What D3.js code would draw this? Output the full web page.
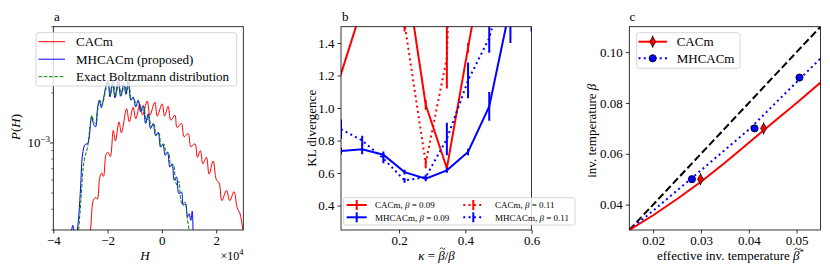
<!DOCTYPE html>
<html><head><meta charset="utf-8">
<script src="https://cdn.jsdelivr.net/npm/d3@7"></script>
<style>
body{margin:0;background:#fff}
svg{display:block}
svg text, svg tspan{font-family:"Liberation Serif","Times New Roman",serif !important;fill:#000}
</style>
</head><body>
<svg id="c" width="830" height="277" font-family="Liberation Serif"></svg>
<script>
// ---------- Panel a data (H in units of 1e4, P(H)) ----------
const aRedH = [-2.70,-2.63,-2.53,-2.45,-2.38,-2.29,-2.22,-2.15,-2.06,-1.99,-1.90,-1.79,-1.71,-1.58,-1.49,-1.30,-1.20,-1.06,-0.96,-0.81,-0.71,-0.54,-0.44,-0.26,-0.17,0.01,0.10,0.23,0.33,0.48,0.56,0.72,0.82,0.97,1.07,1.22,1.31,1.42,1.51,1.64,1.74,1.89,2.01,2.11,2.21,2.38,2.50,2.66,2.77,2.87,2.99,3.05];
const aRedP = [2.6e-4,3.0e-4,4.5e-4,4.7e-4,4.6e-4,6.2e-4,6.6e-4,6.3e-4,8.5e-4,8.8e-4,8.3e-4,1.19e-3,1.03e-3,1.34e-3,1.15e-3,1.61e-3,1.34e-3,1.64e-3,1.40e-3,1.71e-3,1.47e-3,1.79e-3,1.47e-3,1.76e-3,1.45e-3,1.72e-3,1.45e-3,1.66e-3,1.37e-3,1.47e-3,1.24e-3,1.31e-3,1.09e-3,1.14e-3,9.5e-4,9.9e-4,8.2e-4,9.0e-4,7.5e-4,8.2e-4,6.5e-4,7.8e-4,6.0e-4,5.75e-4,4.5e-4,5.2e-4,4.5e-4,5.1e-4,4.1e-4,3.8e-4,3.0e-4,2.7e-4];
const aBlueH = [-3.40,-3.28,-3.18,-3.12,-3.055,-2.994,-2.933,-2.871,-2.822,-2.736,-2.675,-2.589,-2.515,-2.442,-2.380,-2.307,-2.233,-2.160,-2.074,-1.988,-1.914,-1.816,-1.730,-1.607,-1.521,-1.399,-1.325,-1.239,-1.141,-1.055,-0.969,-0.871,-0.785,-0.687,-0.601,-0.503,-0.417,-0.319,-0.233,-0.135,-0.049,0.037,0.123,0.209,0.294,0.380,0.454,0.540,0.626,0.724,0.785,0.871,0.945,1.006,1.067,1.117,1.153];
const aBlueP = [2.4e-4,3.2e-4,2.4e-4,2.9e-4,3.76e-4,5.44e-4,8.24e-4,9.46e-4,9.82e-4,9.91e-4,1.087e-3,1.43e-3,1.295e-3,1.248e-3,1.57e-3,1.81e-3,1.63e-3,1.81e-3,2.15e-3,2.38e-3,1.89e-3,2.35e-3,1.87e-3,2.38e-3,1.91e-3,2.27e-3,1.96e-3,2.40e-3,1.81e-3,1.89e-3,1.65e-3,1.81e-3,1.54e-3,1.68e-3,1.31e-3,1.50e-3,1.22e-3,1.31e-3,1.11e-3,1.16e-3,9.46e-4,9.82e-4,8.43e-4,8.83e-4,7.17e-4,7.51e-4,5.97e-4,6.25e-4,4.96e-4,5.07e-4,4.22e-4,4.32e-4,3.59e-4,3.76e-4,3.43e-4,3.90e-4,2.7e-4];
const aGreenH = [-3.10,-3.067,-2.982,-2.896,-2.822,-2.748,-2.650,-2.577,-2.503,-2.429,-2.356,-2.282,-2.209,-2.135,-2.049,-1.963,-1.890,-1.791,-1.706,-1.583,-1.497,-1.374,-1.301,-1.215,-1.117,-1.031,-0.945,-0.847,-0.761,-0.663,-0.577,-0.479,-0.393,-0.294,-0.209,-0.110,-0.025,0.074,0.160,0.245,0.331,0.417,0.503,0.55,0.62,0.70,0.76,0.85,0.93,1.006,1.06];
const aGreenP = [2.6e-4,3.0e-4,4.52e-4,7.17e-4,8.43e-4,9.24e-4,1.248e-3,1.466e-3,1.337e-3,1.307e-3,1.608e-3,1.81e-3,1.68e-3,1.85e-3,2.15e-3,2.33e-3,1.93e-3,2.33e-3,1.91e-3,2.33e-3,1.93e-3,2.25e-3,1.98e-3,2.33e-3,1.82e-3,1.87e-3,1.66e-3,1.76e-3,1.54e-3,1.66e-3,1.32e-3,1.47e-3,1.25e-3,1.30e-3,1.11e-3,1.15e-3,9.55e-4,9.9e-4,8.63e-4,8.71e-4,7.34e-4,7.44e-4,5.97e-4,5.6e-4,5.9e-4,4.5e-4,4.28e-4,4.42e-4,3.59e-4,3.0e-4,2.7e-4];
const aXTicks = [-4,-2,0,2];

// ---------- Panel b data ----------
const kappa = [0.025,0.0889,0.1528,0.2167,0.2806,0.3444,0.4083,0.4722,0.5361,0.6];
const klCACm09 = [1.21,1.62,2.1,1.89,1.02,0.63,1.37,2.1,2.6,3.0];
const errCACm09 = [0.01,0.02,0.03,0.04,0.03,0.02,0.03,0.05,0.05,0.05];
const klCACm11 = [1.9,2.3,2.6,1.52,0.66,1.31,5.2,6.0,7.0,8.0];
const errCACm11 = [0.05,0.05,0.05,0.05,0.03,0.19,0.3,0.3,0.3,0.3];
const klMH09 = [0.735,0.746,0.713,0.606,0.565,0.617,0.73,1.01,1.63,1.9];
const errMH09 = [0.02,0.03,0.02,0.015,0.015,0.015,0.02,0.088,0.23,0.43];
const klMH11 = [0.87,0.80,0.69,0.555,0.575,0.81,1.17,1.43,1.9,2.2];
const errMH11 = [0.06,0.03,0.03,0.015,0.015,0.10,0.11,0.09,0.2,0.2];
const bXTicks = [0.2,0.4,0.6];
const bYTicks = [0.4,0.6,0.8,1.0,1.2,1.4];

// ---------- Panel c data ----------
const diagX = [0.015,0.055], diagY = [0.03,0.11];
const cacmCurveX = [0.015,0.02,0.025,0.03,0.035,0.04,0.045,0.05,0.055];
const cacmCurveY = [0.03,0.0358,0.0422,0.049,0.0565,0.0643,0.0722,0.080,0.088];
const mhCurveX = [0.015,0.02,0.03,0.04,0.05,0.055];
const mhCurveY = [0.03,0.0376,0.0535,0.0695,0.0882,0.0975];
const cacmPtsX = [0.0299,0.0431], cacmPtsY = [0.05,0.07];
const mhPtsX = [0.0281,0.0412,0.0506], mhPtsY = [0.05,0.07,0.09];
const cXTicks = [0.02,0.03,0.04,0.05];
const cYTicks = [0.04,0.06,0.08,0.10];

const RED = "#ff0000", BLUE = "#0000ff", GREEN = "#008000";
const SERIF = '"Liberation Serif","Times New Roman",serif';
const svg = d3.select("#c");
const FS = 13;

function zip(a,b){return a.map((v,i)=>[v,b[i]]);}

function frameAndAxes(g, x, y, xt, yt, xfmt, yfmt, id){
  const [x0,x1] = x.range(), [y0,y1] = y.range();
  const ax = g.append("g").attr("transform",`translate(0,${y0})`)
    .call(d3.axisBottom(x).tickValues(xt).tickFormat(xfmt).tickSize(3.5).tickPadding(2));
  ax.attr("font-family",SERIF).attr("font-size",FS);
  ax.select(".domain").remove();
  ax.selectAll("line").attr("stroke","#000").attr("stroke-width",0.8);
  ax.selectAll("text").style("font-size",FS+"px").style("font-family",SERIF);
  if (yt){
    const ay = g.append("g").attr("transform",`translate(${x0},0)`)
      .call(d3.axisLeft(y).tickValues(yt).tickFormat(yfmt).tickSize(3.5).tickPadding(3));
    ay.attr("font-family",SERIF).attr("font-size",FS);
    ay.select(".domain").remove();
    ay.selectAll("line").attr("stroke","#000").attr("stroke-width",0.8);
    ay.selectAll("text").style("font-size",FS+"px").style("font-family",SERIF);
  }
  g.append("clipPath").attr("id",id).append("rect")
    .attr("x",x0).attr("y",y1).attr("width",x1-x0).attr("height",y0-y1);
}
function frameRect(g,x,y){
  const [x0,x1] = x.range(), [y0,y1] = y.range();
  g.append("rect").attr("x",x0).attr("y",y1).attr("width",x1-x0).attr("height",y0-y1)
    .attr("fill","none").attr("stroke","#000").attr("stroke-width",0.8);
}
// draw a tilde path above character idx of text selection t (baseline y)
function tildeOver(g,t,idx,baseY){
  const n = t.node();
  const s = n.getStartPositionOfChar(idx), e = n.getEndPositionOfChar(idx);
  const x0 = s.x + 1.6, x1 = e.x + 0.8, w = x1-x0, y = baseY - 11;
  g.append("path")
    .attr("d",`M${x0},${y+0.8}C${x0+w*0.25},${y-1.6} ${x0+w*0.45},${y-0.6} ${x0+w*0.5},${y}S${x0+w*0.75},${y+1.6} ${x1},${y-0.8}`)
    .attr("fill","none").attr("stroke","#000").attr("stroke-width",0.8);
}

// ================= Panel a =================
const xA = d3.scaleLinear([-4,3],[53.3,243.3]);
const yA = d3.scaleLog([3e-4,5e-3],[230,26.7]);
const gA = svg.append("g");
frameAndAxes(gA,xA,yA,aXTicks,null,d=>d<0?"\u2212"+Math.abs(d):String(d),null,"clipA");
const minorA = [3e-4,4e-4,5e-4,6e-4,7e-4,8e-4,9e-4,2e-3,3e-3,4e-3,5e-3];
gA.selectAll(".minA").data(minorA).join("line")
  .attr("x1",53.3).attr("x2",53.3-2).attr("y1",d=>yA(d)).attr("y2",d=>yA(d))
  .attr("stroke","#000").attr("stroke-width",0.6);
gA.append("line").attr("x1",53.3).attr("x2",53.3-3.5).attr("y1",yA(1e-3)).attr("y2",yA(1e-3))
  .attr("stroke","#000").attr("stroke-width",0.8);
const lab3 = gA.append("text").attr("x",50).attr("y",yA(1e-3)+4.5).attr("text-anchor","end").style("font-size",FS+"px");
lab3.append("tspan").text("10");
lab3.append("tspan").attr("dy",-5).style("font-size","9px").text("\u22123");

const lineA = d3.line().x(d=>xA(d[0])).y(d=>yA(d[1])).curve(d3.curveCatmullRom.alpha(0.5));
const clA = gA.append("g").attr("clip-path","url(#clipA)");
clA.append("path").attr("d",lineA(zip(aRedH,aRedP))).attr("fill","none").attr("stroke",RED).attr("stroke-width",1);
clA.append("path").attr("d",lineA(zip(aBlueH,aBlueP))).attr("fill","none").attr("stroke",BLUE).attr("stroke-width",1);
clA.append("path").attr("d",lineA(zip(aGreenH,aGreenP))).attr("fill","none").attr("stroke",GREEN).attr("stroke-width",1).attr("stroke-dasharray","3.7,1.6");
frameRect(gA,xA,yA);
gA.append("text").attr("x",54).attr("y",20.5).style("font-size",FS+"px").text("a");
gA.append("text").attr("x",145).attr("y",259.5).attr("text-anchor","middle").style("font-size",FS+"px").style("font-style","italic").text("H");
const ex = gA.append("text").attr("x",243.5).attr("y",259.5).attr("text-anchor","end").style("font-size","12px");
ex.append("tspan").text("\u00d710");
ex.append("tspan").attr("dy",-5).style("font-size","8.5px").text("4");
const yl = gA.append("text").attr("transform","translate(19.5,127) rotate(-90)").attr("text-anchor","middle").style("font-size",FS+"px");
yl.append("tspan").style("font-style","italic").text("P");
yl.append("tspan").text("(");
yl.append("tspan").style("font-style","italic").text("H");
yl.append("tspan").text(")");
gA.append("rect").attr("x",36).attr("y",32.7).attr("width",200.7).attr("height",53.3).attr("rx",2.5)
  .attr("fill","#fff").attr("fill-opacity",0.8).attr("stroke","#ccc").attr("stroke-width",0.8);
const legA = [["CACm",RED,null],["MHCACm (proposed)",BLUE,null],["Exact Boltzmann distribution",GREEN,"3.7,1.6"]];
legA.forEach((e,i)=>{
  const yy = 41.7 + i*17.5;
  gA.append("line").attr("x1",38.5).attr("x2",65).attr("y1",yy).attr("y2",yy).attr("stroke",e[1]).attr("stroke-width",1).attr("stroke-dasharray",e[2]);
  gA.append("text").attr("x",76).attr("y",yy+4.5).style("font-size",FS+"px").text(e[0]);
});

// ================= Panel b =================
const xB = d3.scaleLinear([0.025,0.6],[341,531.6]);
const yB = d3.scaleLinear([0.25,1.5],[230,26.7]);
const gB = svg.append("g");
frameAndAxes(gB,xB,yB,bXTicks,bYTicks,d3.format(".1f"),d3.format(".1f"),"clipB");
const clB = gB.append("g").attr("clip-path","url(#clipB)");
const lineB = d3.line().x(d=>xB(d[0])).y(d=>yB(d[1]));
const seriesB = [
  [klCACm09,errCACm09,RED,null],
  [klMH09,errMH09,BLUE,null],
  [klCACm11,errCACm11,RED,"2,3.3"],
  [klMH11,errMH11,BLUE,"2,3.3"]
];
seriesB.forEach(s=>{
  clB.append("path").attr("d",lineB(zip(kappa,s[0]))).attr("fill","none").attr("stroke",s[2]).attr("stroke-width",2).attr("stroke-dasharray",s[3]);
  clB.selectAll(null).data(kappa.map((k,i)=>[k,s[0][i],s[1][i]])).join("line")
    .attr("x1",d=>xB(d[0])).attr("x2",d=>xB(d[0])).attr("y1",d=>yB(d[1]-d[2])).attr("y2",d=>yB(d[1]+d[2]))
    .attr("stroke",s[2]).attr("stroke-width",2);
});
frameRect(gB,xB,yB);
gB.append("text").attr("x",342).attr("y",20.5).style("font-size",FS+"px").text("b");
gB.append("text").attr("transform","translate(316,128.3) rotate(-90)").attr("text-anchor","middle").style("font-size",FS+"px").text("KL divergence");
const xlB = gB.append("text").attr("x",436.5).attr("y",259.5).attr("text-anchor","middle").style("font-size",FS+"px");
xlB.append("tspan").style("font-style","italic").text("\u03ba");
xlB.append("tspan").text(" = ");
xlB.append("tspan").style("font-style","italic").text("\u03b2");
xlB.append("tspan").text("/");
xlB.append("tspan").style("font-style","italic").text("\u03b2");
tildeOver(gB,xlB,4,259.5);
gB.append("rect").attr("x",343.3).attr("y",197.7).attr("width",231.7).attr("height",27.3).attr("rx",2)
  .attr("fill","#fff").attr("fill-opacity",0.8).attr("stroke","#ccc").attr("stroke-width",0.8);
const legB = [
  ["CACm, ","0.09",RED,null,0,0],["MHCACm, ","0.09",BLUE,null,0,1],
  ["CACm, ","0.11",RED,"2,3.3",1,0],["MHCACm, ","0.11",BLUE,"2,3.3",1,1]
];
legB.forEach(e=>{
  const hx0 = e[4]? 463.3 : 346.7, hx1 = hx0+20, tx = e[4]? 495 : 375;
  const yy = 205 + e[5]*12.3;
  gB.append("line").attr("x1",hx0).attr("x2",hx1).attr("y1",yy).attr("y2",yy).attr("stroke",e[2]).attr("stroke-width",2).attr("stroke-dasharray",e[3]);
  gB.append("line").attr("x1",(hx0+hx1)/2).attr("x2",(hx0+hx1)/2).attr("y1",yy-5).attr("y2",yy+5).attr("stroke",e[2]).attr("stroke-width",2);
  const t = gB.append("text").attr("x",tx).attr("y",yy+3.2).style("font-size","9px");
  t.append("tspan").text(e[0]);
  t.append("tspan").style("font-style","italic").text("\u03b2");
  t.append("tspan").text(" = "+e[1]);
});

// ================= Panel c =================
const xC = d3.scaleLinear([0.015,0.055],[629.3,820.5]);
const yC = d3.scaleLinear([0.03,0.11],[230,26.7]);
const gC = svg.append("g");
frameAndAxes(gC,xC,yC,cXTicks,cYTicks,d3.format(".2f"),d3.format(".2f"),"clipC");
const clC = gC.append("g").attr("clip-path","url(#clipC)");
const lineC = d3.line().x(d=>xC(d[0])).y(d=>yC(d[1]));
clC.append("path").attr("d",lineC(zip(diagX,diagY))).attr("fill","none").attr("stroke","#000").attr("stroke-width",2).attr("stroke-dasharray","7.4,3.2");
clC.append("path").attr("d",lineC(zip(mhCurveX,mhCurveY))).attr("fill","none").attr("stroke",BLUE).attr("stroke-width",2).attr("stroke-dasharray","2,3.3");
clC.append("path").attr("d",lineC(zip(cacmCurveX,cacmCurveY))).attr("fill","none").attr("stroke",RED).attr("stroke-width",2);
function diamond(g,cx,cy){
  g.append("line").attr("x1",cx).attr("x2",cx).attr("y1",cy-6).attr("y2",cy+6).attr("stroke","#000").attr("stroke-width",1);
  g.append("path").attr("d",`M${cx},${cy-5}L${cx+3},${cy}L${cx},${cy+5}L${cx-3},${cy}Z`)
    .attr("fill",RED).attr("stroke","#000").attr("stroke-width",0.8);
}
function circ(g,cx,cy){
  g.append("circle").attr("cx",cx).attr("cy",cy).attr("r",3.6).attr("fill",BLUE).attr("stroke","#000").attr("stroke-width",0.8);
}
mhPtsX.forEach((x,i)=>circ(clC,xC(x),yC(mhPtsY[i])));
cacmPtsX.forEach((x,i)=>diamond(clC,xC(x),yC(cacmPtsY[i])));
frameRect(gC,xC,yC);
gC.append("text").attr("x",629.5).attr("y",20.5).style("font-size",FS+"px").text("c");
const ylC = gC.append("text").attr("transform","translate(596,130.8) rotate(-90)").attr("text-anchor","middle").style("font-size",FS+"px");
ylC.append("tspan").text("inv. temperature ");
ylC.append("tspan").style("font-style","italic").text("\u03b2");
const xlC = gC.append("text").attr("x",730.5).attr("y",260).attr("text-anchor","middle").style("font-size",FS+"px");
xlC.append("tspan").text("effective inv. temperature ");
xlC.append("tspan").style("font-style","italic").text("\u03b2");
xlC.append("tspan").attr("dy",-5).style("font-size","9px").text("*");
tildeOver(gC,xlC,27,260);
gC.append("rect").attr("x",636.7).attr("y",32.7).attr("width",103.3).attr("height",35.6).attr("rx",2.5)
  .attr("fill","#fff").attr("fill-opacity",0.8).attr("stroke","#ccc").attr("stroke-width",0.8);
gC.append("line").attr("x1",638.5).attr("x2",667).attr("y1",41.7).attr("y2",41.7).attr("stroke",RED).attr("stroke-width",2);
diamond(gC,652.7,41.7);
gC.append("text").attr("x",676.7).attr("y",46.2).style("font-size",FS+"px").text("CACm");
gC.append("line").attr("x1",638.5).attr("x2",667).attr("y1",58.3).attr("y2",58.3).attr("stroke",BLUE).attr("stroke-width",2).attr("stroke-dasharray","2,3.3");
circ(gC,652.7,58.3);
gC.append("text").attr("x",676.7).attr("y",62.8).style("font-size",FS+"px").text("MHCACm");
</script>
</body></html>
